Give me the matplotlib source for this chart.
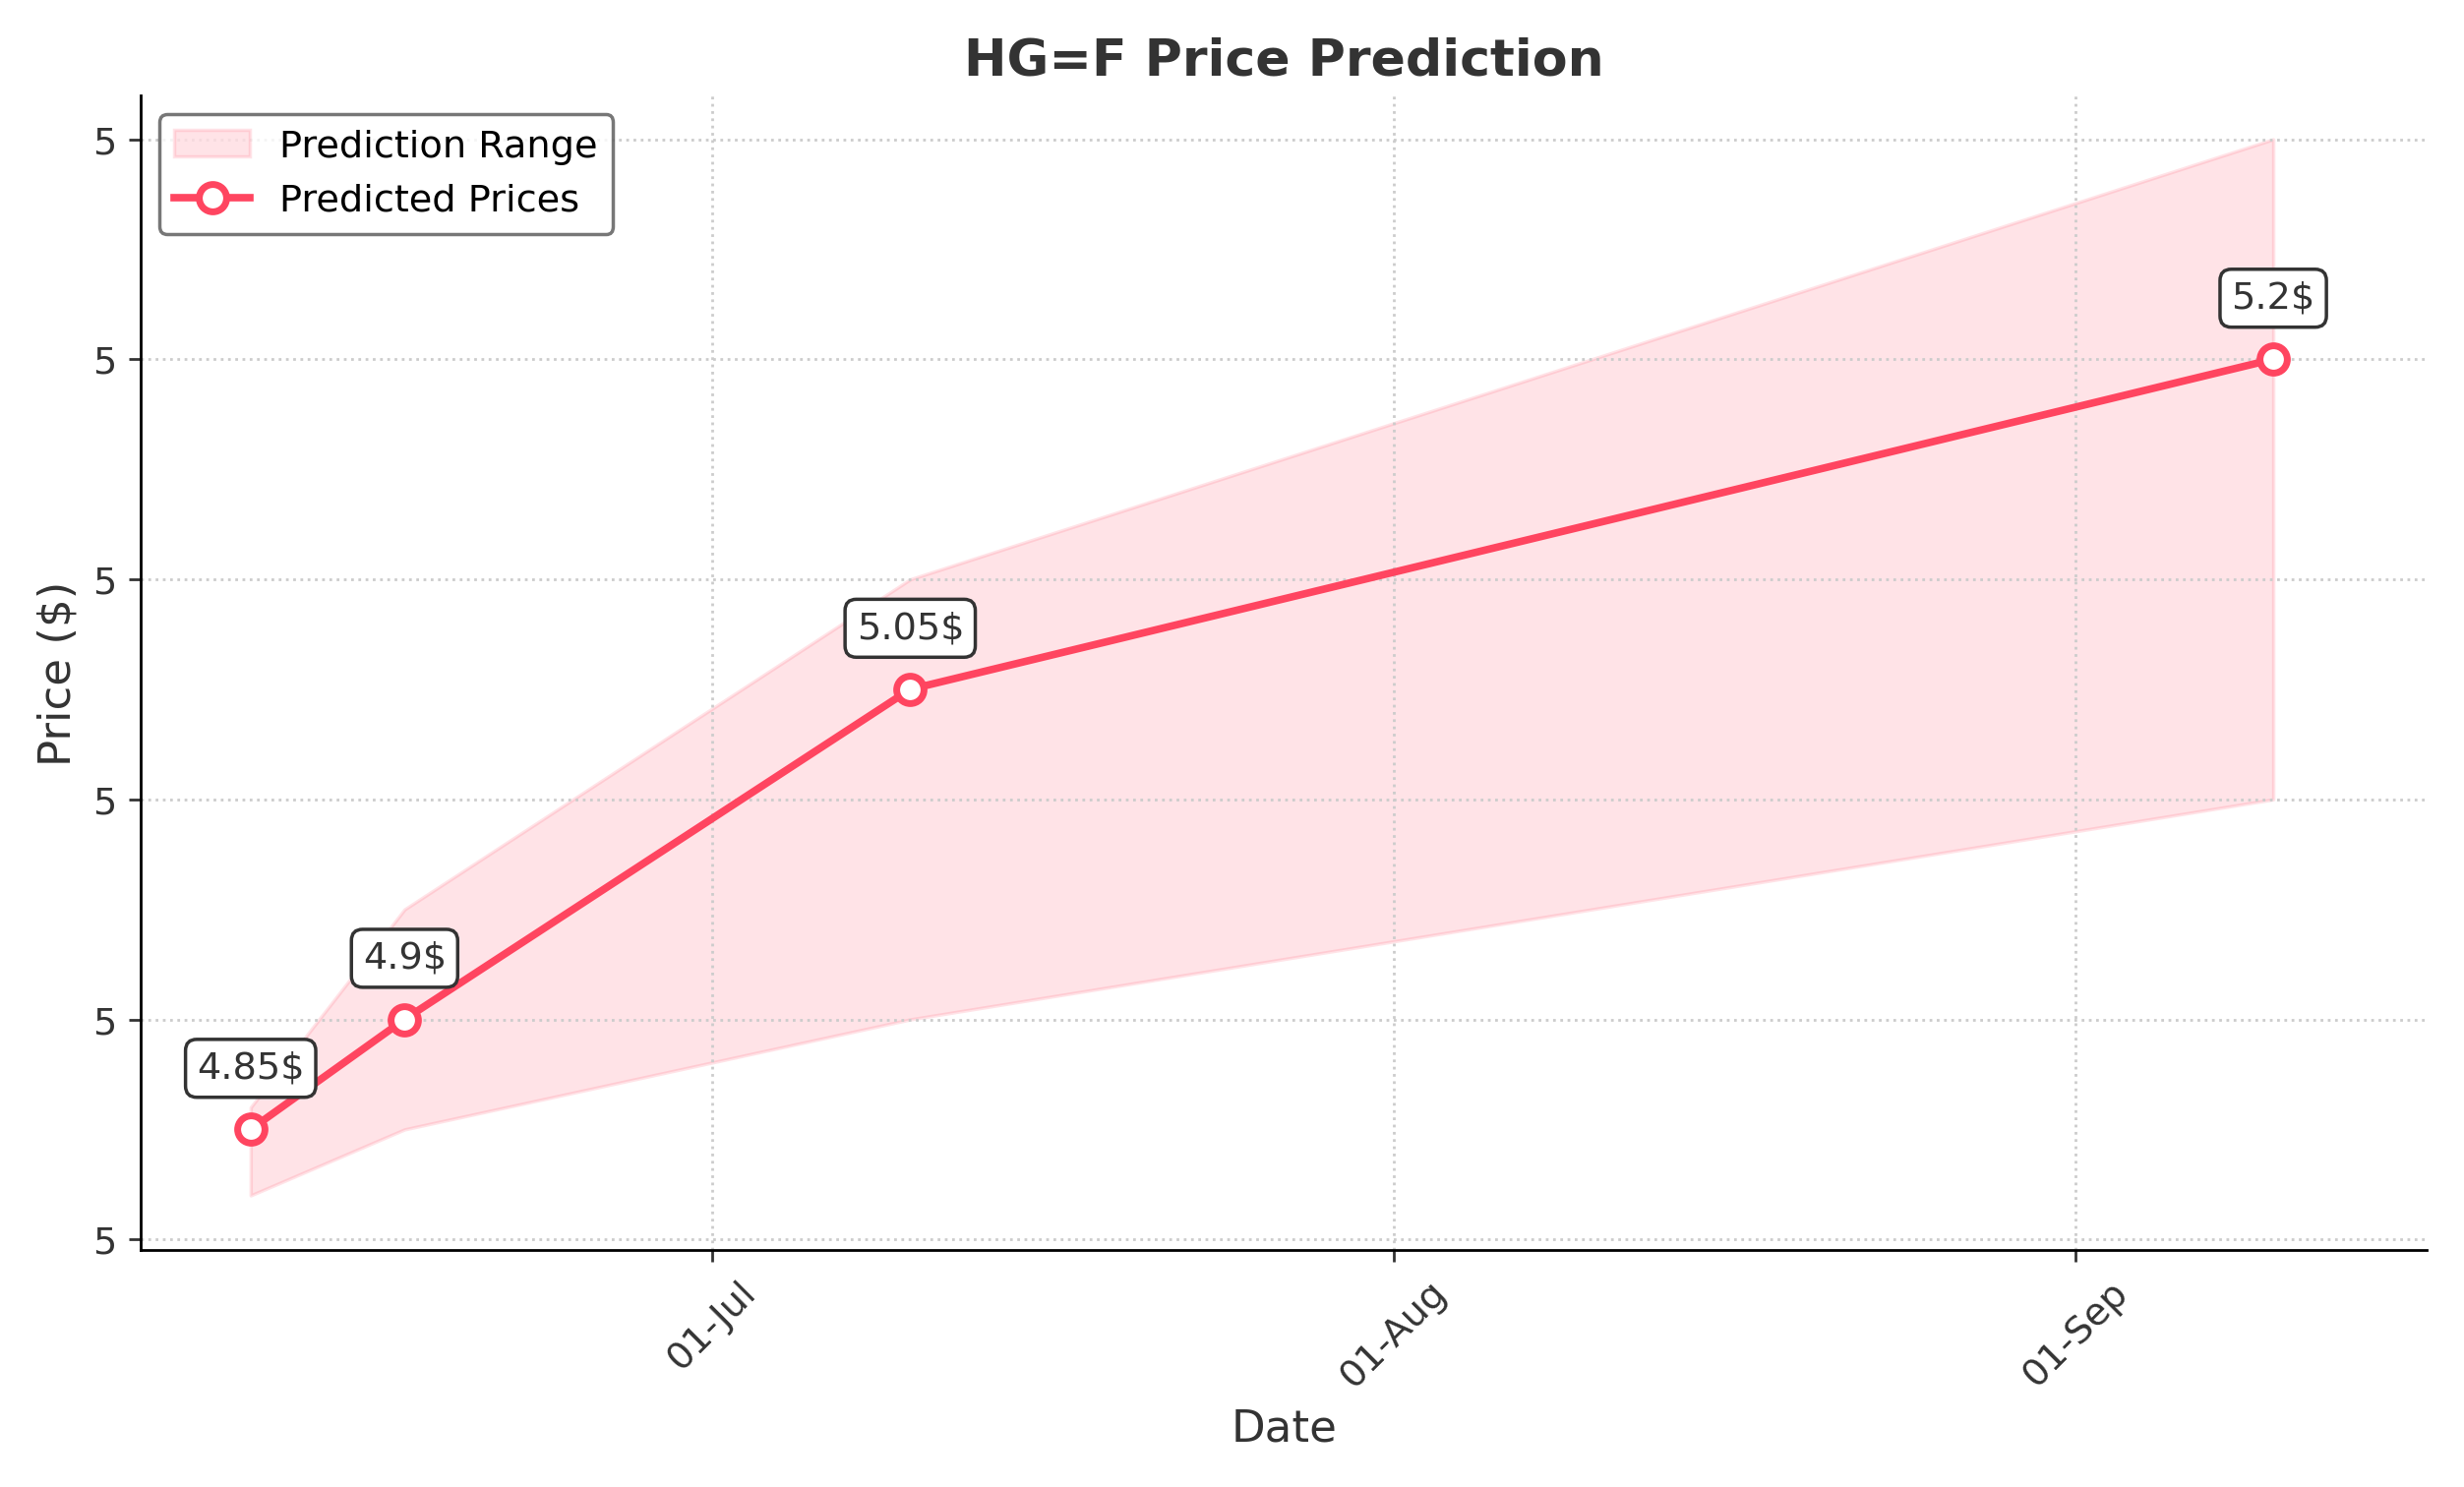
import matplotlib.pyplot as plt
import matplotlib.dates as mdates
from matplotlib.ticker import FormatStrFormatter
import pandas as pd

dates = pd.to_datetime(["2024-06-10", "2024-06-17", "2024-07-10", "2024-09-10"])
predicted = [4.85, 4.9, 5.05, 5.2]
lower = [4.82, 4.85, 4.9, 5.0]
upper = [4.86, 4.95, 5.1, 5.3]
labels = ["4.85$", "4.9$", "5.05$", "5.2$"]

color = "#FF4560"

fig, ax = plt.subplots(figsize=(10.02, 6.05), dpi=250)

ax.fill_between(dates, lower, upper, color=color, alpha=0.15, label="Prediction Range")
ax.plot(dates, predicted, color=color, linewidth=2.2, marker="o", markersize=8,
        markerfacecolor="white", markeredgewidth=2, label="Predicted Prices")

for d, p, t in zip(dates, predicted, labels):
    ax.annotate(t, (d, p), xytext=(0, 15), textcoords="offset points", ha="center",
                fontsize=11, color="#333333",
                bbox=dict(boxstyle="round,pad=0.3", fc="white", ec="#333333", lw=1))

ax.set_title("HG=F Price Prediction", fontsize=15, fontweight="bold", color="#333333")
ax.set_xlabel("Date", fontsize=13, color="#333333")
ax.set_ylabel("Price ($)", fontsize=13, color="#333333")

ax.xaxis.set_major_locator(mdates.MonthLocator())
ax.xaxis.set_major_formatter(mdates.DateFormatter("%d-%b"))
ax.yaxis.set_major_formatter(FormatStrFormatter("%.0f"))
ax.set_yticks([4.8, 4.9, 5.0, 5.1, 5.2, 5.3])
ax.set_ylim(4.795, 5.32)
ax.set_xlim(pd.Timestamp("2024-06-05"), pd.Timestamp("2024-09-17"))
plt.setp(ax.get_xticklabels(), rotation=45)
ax.tick_params(labelsize=11, colors="#333333")

ax.grid(True, linestyle=":", color="#cccccc")
ax.spines["top"].set_visible(False)
ax.spines["right"].set_visible(False)
ax.legend(loc="upper left", fontsize=11, edgecolor="#555555")

plt.tight_layout()
plt.savefig("out.png")
